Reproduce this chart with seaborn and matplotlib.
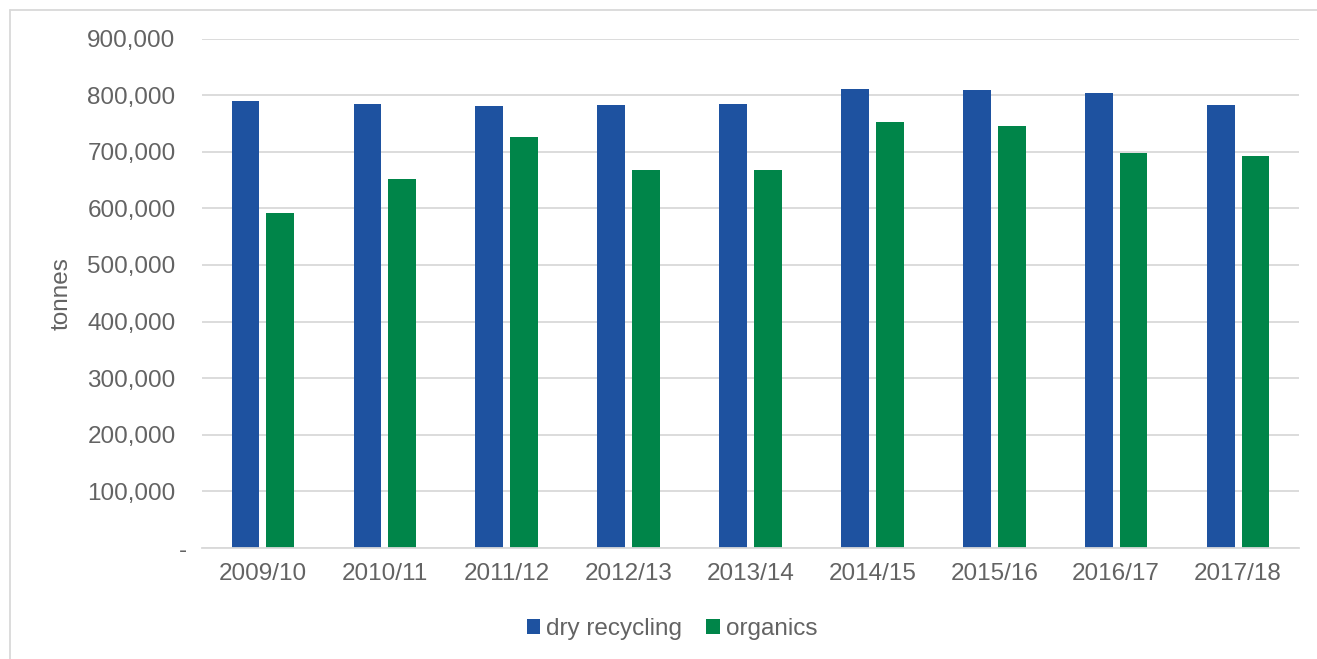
import matplotlib
matplotlib.use("Agg")
import matplotlib.pyplot as plt
import matplotlib.transforms as mtransforms
from matplotlib.lines import Line2D
from matplotlib.patches import Patch
import seaborn as sns
import pandas as pd

years = ["2009/10", "2010/11", "2011/12", "2012/13", "2013/14",
         "2014/15", "2015/16", "2016/17", "2017/18"]
dry_recycling = [789000, 784000, 780000, 782000, 783500, 810000, 809500, 803500, 782000]
organics = [591000, 651000, 726000, 667000, 668000, 752500, 745000, 697500, 692000]
series_names = ["dry recycling", "organics"]
colors = ["#1E52A0", "#008549"]

df = pd.DataFrame({
    "year": years * 2,
    "tonnes": dry_recycling + organics,
    "series": [series_names[0]] * len(years) + [series_names[1]] * len(years),
})

sns.set_theme(style="white")
plt.rcParams["font.family"] = ["Liberation Sans", "DejaVu Sans"]
TXT = "#636363"
FS = 17.5

W, H = 1317, 659
fig = plt.figure(figsize=(W / 100, H / 100), dpi=100)
left, right, bottom, top = 202, 1299, 548, 38.5
ax = fig.add_axes([left / W, 1 - bottom / H, (right - left) / W, (bottom - top) / H])

sns.barplot(data=df, x="year", y="tonnes", hue="series", order=years,
            hue_order=series_names, palette=colors, width=0.57, gap=0.2,
            saturation=1, ax=ax, legend=False, linewidth=0)

ax.set_ylim(0, 900000)
ax.set_xlim(-0.5, len(years) - 0.5)
ticks = list(range(0, 900001, 100000))
ax.set_yticks(ticks)
ax.set_yticklabels(["-" if t == 0 else f"{t:,}" for t in ticks])
ax.yaxis.grid(True, color="#d9d9d9", linewidth=1.3)
ax.set_axisbelow(True)
for s in ["left", "right", "top"]:
    ax.spines[s].set_visible(False)
ax.spines["bottom"].set_color("#d9d9d9")
ax.spines["bottom"].set_linewidth(1.3)
ax.tick_params(axis="y", length=0, pad=19, labelsize=FS, labelcolor=TXT)
ax.tick_params(axis="x", length=0, pad=11, labelsize=FS, labelcolor=TXT)
for lab in ax.get_yticklabels():
    if lab.get_text() == "-":
        lab.set_transform(lab.get_transform() +
                          mtransforms.ScaledTranslation(11 / 100, 0, fig.dpi_scale_trans))
ax.set_xlabel("")
ax.set_ylabel("tonnes", fontsize=FS, color=TXT)
ax.yaxis.set_label_coords((62 - left) / (right - left), 0.5)
ax.yaxis.label.set_va("center")

handles = [Patch(facecolor=c, edgecolor="none") for c in colors]
fig.legend(handles, series_names, loc="center", bbox_to_anchor=(672 / W, 1 - 629 / H),
           ncol=2, frameon=False, fontsize=FS, labelcolor=TXT,
           handlelength=0.55, handleheight=0.55, handletextpad=0.25,
           columnspacing=1.0)

# outer chart border
fig.add_artist(Line2D([9.5 / W, 9.5 / W], [0, 1 - 9.5 / H], transform=fig.transFigure,
                      color="#d9d9d9", linewidth=1.3))
fig.add_artist(Line2D([9.5 / W, 1], [1 - 9.5 / H, 1 - 9.5 / H], transform=fig.transFigure,
                      color="#d9d9d9", linewidth=1.3))

fig.savefig("out.png", dpi=100)
